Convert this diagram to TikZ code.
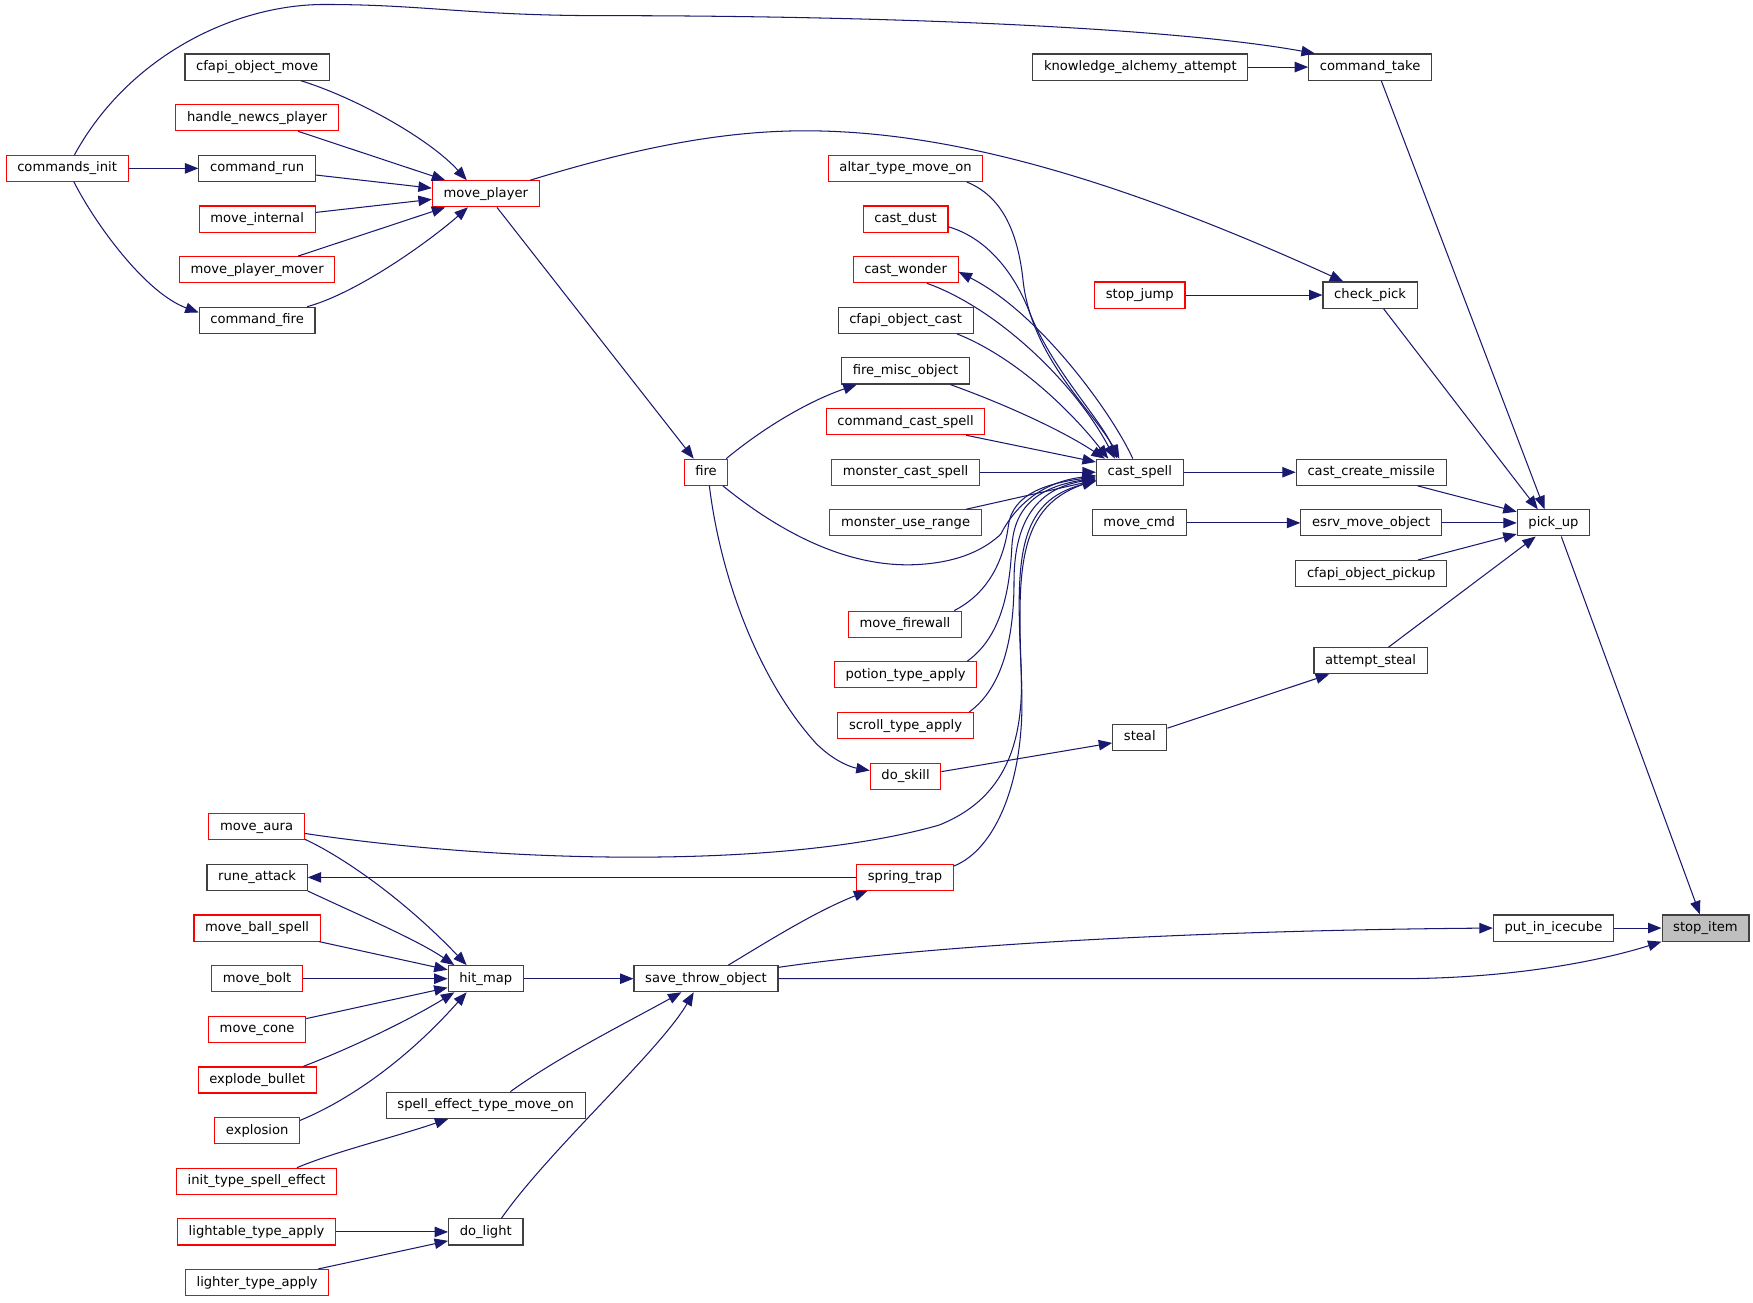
\documentclass[tikz,border=0pt]{standalone}
\usepackage{fontspec}
\setmainfont{DejaVu Sans}
\usetikzlibrary{calc,arrows.meta}
\definecolor{edgeblue}{RGB}{25,25,112}
\definecolor{boxgray}{RGB}{64,64,64}
\definecolor{boxred}{RGB}{255,0,0}
\definecolor{hilite}{RGB}{191,191,191}
\begin{document}
\begin{tikzpicture}[x=0.75pt,y=-0.75pt,
  fn/.style={rectangle,draw,line width=0.75pt,fill=white,inner xsep=7.5pt,inner ysep=0pt,
    minimum height=17.5pt,text height=6.7pt,text depth=1.9pt,font=\fontsize{8.8pt}{10pt}\selectfont},
  nb/.style={fn,draw=boxgray},
  nr/.style={fn,draw=boxred},
  ns/.style={fn,draw=boxgray,fill=hilite},
  link/.style={draw=edgeblue,line width=0.7pt,-{Triangle[length=9pt,width=7pt]}}]
\useasboundingbox[fill=white] (0,0) rectangle (1568,1165);
% nodes
\node[nr] (commands_init) at (60,150.6) {commands\_init};
\node[nb] (cfapi_object_move) at (230,60) {cfapi\_object\_move};
\node[nr] (handle_newcs_player) at (230,105.3) {handle\_newcs\_player};
\node[nb] (command_run) at (230,150.6) {command\_run};
\node[nr] (move_internal) at (230,195.9) {move\_internal};
\node[nr] (move_player_mover) at (230,241.2) {move\_player\_mover};
\node[nb] (command_fire) at (230,286.5) {command\_fire};
\node[nr] (move_player) at (434.5,173.3) {move\_player};
\node[nb] (knowledge_alchemy_attempt) at (1020,60) {knowledge\_alchemy\_attempt};
\node[nb] (command_take) at (1225.5,60) {command\_take};
\node[nr] (altar_type_move_on) at (810,150.6) {altar\_type\_move\_on};
\node[nr] (cast_dust) at (810,195.9) {cast\_dust};
\node[nr] (cast_wonder) at (810,241.2) {cast\_wonder};
\node[nr] (stop_jump) at (1019.5,263.9) {stop\_jump};
\node[nb] (check_pick) at (1225.5,263.9) {check\_pick};
\node[nb] (cfapi_object_cast) at (810,286.5) {cfapi\_object\_cast};
\node[nb] (fire_misc_object) at (810,331.8) {fire\_misc\_object};
\node[nr] (command_cast_spell) at (810,377.1) {command\_cast\_spell};
\node[nr] (fire) at (631.5,422.4) {fire};
\node[nr] (monster_cast_spell) at (810,422.4) {monster\_cast\_spell};
\node[nb] (cast_spell) at (1019.5,422.4) {cast\_spell};
\node[nb] (cast_create_missile) at (1226.5,422.4) {cast\_create\_missile};
\node[nr] (monster_use_range) at (810,467.7) {monster\_use\_range};
\node[nb] (move_cmd) at (1019,467.7) {move\_cmd};
\node[nb] (esrv_move_object) at (1226.5,467.7) {esrv\_move\_object};
\node[nb] (pick_up) at (1389.5,467.7) {pick\_up};
\node[nb] (cfapi_object_pickup) at (1226.5,513) {cfapi\_object\_pickup};
\node[nr] (move_firewall) at (809.5,558.3) {move\_firewall};
\node[nb] (attempt_steal) at (1226,591) {attempt\_steal};
\node[nr] (potion_type_apply) at (810,603.6) {potion\_type\_apply};
\node[nr] (scroll_type_apply) at (810,648.9) {scroll\_type\_apply};
\node[nb] (steal) at (1019.5,659.5) {steal};
\node[nr] (do_skill) at (810,694.2) {do\_skill};
\node[nr] (move_aura) at (229.5,739.5) {move\_aura};
\node[nb] (rune_attack) at (230,784.8) {rune\_attack};
\node[nr] (spring_trap) at (809.5,784.8) {spring\_trap};
\node[nr] (move_ball_spell) at (230,830.1) {move\_ball\_spell};
\node[nb] (put_in_icecube) at (1389.5,830.1) {put\_in\_icecube};
\node[ns] (stop_item) at (1525.5,830.1) {stop\_item};
\node[nr] (move_bolt) at (230,875.4) {move\_bolt};
\node[nb] (hit_map) at (434.5,875.4) {hit\_map};
\node[nb] (save_throw_object) at (631.5,875.4) {save\_throw\_object};
\node[nr] (move_cone) at (230,920.7) {move\_cone};
\node[nr] (explode_bullet) at (230,966) {explode\_bullet};
\node[nb] (spell_effect_type_move_on) at (434.5,988.6) {spell\_effect\_type\_move\_on};
\node[nr] (explosion) at (230,1011.3) {explosion};
\node[nr] (init_type_spell_effect) at (229.5,1056.6) {init\_type\_spell\_effect};
\node[nr] (lightable_type_apply) at (229.5,1101.9) {lightable\_type\_apply};
\node[nb] (do_light) at (434.5,1101.9) {do\_light};
\node[nr] (lighter_type_apply) at (230,1147.2) {lighter\_type\_apply};
% edges
\draw[link] (commands_init) .. controls (115,50) and (210,4) .. (290,4)
  .. controls (380,4) and (420,14) .. (540,14)
  .. controls (800,14) and (1050,25) .. ($(command_take.north west)+(6,0)$);
\draw[link] (knowledge_alchemy_attempt) -- (command_take);
\draw[link] ($(command_take.south)+(10,0)$) -- ($(pick_up.north)+(-8,0)$);
\draw[link] (commands_init) -- (command_run);
\draw[link] (commands_init) .. controls (85,200) and (130,262) .. ($(command_fire.west)+(0,-7)$);
\draw[link] (cfapi_object_move) .. controls (320,88) and (385,125) .. ($(move_player.north)+(-17,0)$);
\draw[link] (handle_newcs_player) -- ($(move_player.north west)+(12,0)$);
\draw[link] (command_run) -- ($(move_player.west)+(0,-5)$);
\draw[link] (move_internal) -- ($(move_player.west)+(0,5)$);
\draw[link] (move_player_mover) -- ($(move_player.south west)+(12,0)$);
\draw[link] (command_fire) .. controls (320,262) and (385,215) .. ($(move_player.south)+(-16,0)$);
\draw[link] (move_player) .. controls (560,135) and (640,117) .. (720,117)
  .. controls (850,117) and (1000,160) .. ($(check_pick.north)+(-24,0)$);
\draw[link] ($(move_player.south)+(10,0)$) -- ($(fire.north)+(-11,0)$);
\draw[link] (stop_jump) -- (check_pick);
\draw[link] ($(check_pick.south)+(12,0)$) -- ($(pick_up.north)+(-14,0)$);
% into cast_spell from above
\draw[link] ($(altar_type_move_on.south east)+(-15,0)$) .. controls (895,175) and (910,205) .. (915,250)
  .. controls (922,320) and (980,370) .. ($(cast_spell.north west)+(21,0)$);
\draw[link] ($(cast_dust.east)+(0,7)$) .. controls (880,212) and (905,240) .. (920,277)
  .. controls (940,330) and (985,375) .. ($(cast_spell.north west)+(19,0)$);
\draw[link] ($(cast_spell.north west)+(33,0)$) .. controls (995,370) and (930,280) .. ($(cast_wonder.east)+(0,2)$);
\draw[link] ($(cast_wonder.south)+(19,0)$) .. controls (890,275) and (960,340) .. ($(cast_spell.north west)+(17,0)$);
\draw[link] ($(cfapi_object_cast.south)+(46,0)$) .. controls (910,320) and (960,370) .. ($(cast_spell.north west)+(11,0)$);
\draw[link] ($(fire_misc_object.south)+(40,0)$) .. controls (900,362) and (950,385) .. ($(cast_spell.north west)+(8,0)$);
\draw[link] ($(command_cast_spell.south)+(54,0)$) -- ($(cast_spell.north west)+(0,3)$);
\draw[link] (monster_cast_spell) -- (cast_spell);
\draw[link] ($(monster_use_range.north)+(54,0)$) -- ($(cast_spell.west)+(0,7)$);
% into cast_spell from below
\draw[link] ($(fire.south east)+(-5,0)$) .. controls (700,478) and (760,508) .. (820,505)
  .. controls (860,503) and (882,490) .. (895,478)
  .. controls (912,445) and (940,430) .. ($(cast_spell.west)+(0,3)$);
\draw[link] ($(move_firewall.north east)+(-7,0)$) .. controls (885,530) and (898,500) .. (902,470)
  .. controls (906,440) and (940,432) .. ($(cast_spell.west)+(0,4)$);
\draw[link] ($(potion_type_apply.north east)+(-9,0)$) .. controls (895,570) and (903,530) .. (905,490)
  .. controls (907,445) and (940,434) .. ($(cast_spell.west)+(0,5)$);
\draw[link] ($(scroll_type_apply.north east)+(-4,0)$) .. controls (897,615) and (907,570) .. (907,520)
  .. controls (907,452) and (940,435) .. ($(cast_spell.west)+(0,6)$);
\draw[link] ($(spring_trap.north east)+(0,2)$) .. controls (890,760) and (916,700) .. (914,620)
  .. controls (911,520) and (905,455) .. ($(cast_spell.west)+(0,7)$);
\draw[link] ($(move_aura.east)+(0,6)$) .. controls (450,772) and (700,778) .. (840,738)
  .. controls (905,712) and (917,655) .. (913,590)
  .. controls (909,500) and (910,448) .. ($(cast_spell.west)+(0,8)$);
% fire out
\draw[link] ($(fire.north east)+(-2,0)$) .. controls (680,385) and (720,360) .. ($(fire_misc_object.south west)+(14,0)$);
\draw[link] ($(fire.south)+(3,0)$) .. controls (645,520) and (680,610) .. (730,665)
  .. controls (745,680) and (760,686) .. ($(do_skill.west)+(0,-5)$);
\draw[link] ($(do_skill.east)+(0,-4)$) -- ($(steal.west)+(0,5)$);
\draw[link] ($(steal.north east)+(0,4)$) -- ($(attempt_steal.south west)+(14,0)$);
\draw[link] ($(attempt_steal.north)+(16,0)$) -- ($(pick_up.south west)+(17,0)$);
\draw[link] (cast_spell) -- (cast_create_missile);
\draw[link] ($(cast_create_missile.south east)+(-26,0)$) -- ($(pick_up.west)+(0,-10)$);
\draw[link] (move_cmd) -- (esrv_move_object);
\draw[link] (esrv_move_object) -- (pick_up);
\draw[link] ($(cfapi_object_pickup.north east)+(-26,0)$) -- ($(pick_up.west)+(0,10)$);
\draw[link] ($(pick_up.south)+(7,0)$) -- ($(stop_item.north)+(-5,0)$);
\draw[link] (put_in_icecube) -- (stop_item);
\draw[link] ($(save_throw_object.north east)+(0,2)$) .. controls (850,843) and (1100,832) .. (put_in_icecube.west);
\draw[link] (save_throw_object.east) -- (1250,875.4) .. controls (1350,875.4) and (1430,860) .. (stop_item.south west);
\draw[link] (spring_trap) -- (rune_attack);
\draw[link] ($(save_throw_object.north)+(20,0)$) .. controls (690,840) and (730,815) .. ($(spring_trap.south west)+(10,0)$);
\draw[link] (hit_map) -- (save_throw_object);
% into hit_map
\draw[link] ($(move_aura.south east)+(0,-1)$) .. controls (310,768) and (365,808) .. ($(hit_map.north west)+(17,0)$);
\draw[link] (rune_attack.south east) .. controls (320,818) and (372,840) .. ($(hit_map.north west)+(6,0)$);
\draw[link] (move_ball_spell) -- ($(hit_map.west)+(0,-8)$);
\draw[link] (move_bolt) -- (hit_map);
\draw[link] (move_cone) -- ($(hit_map.west)+(0,8)$);
\draw[link] ($(explode_bullet.north east)+(-12,0)$) .. controls (320,935) and (370,910) .. ($(hit_map.south west)+(6,0)$);
\draw[link] ($(explosion.north east)+(0,3)$) .. controls (310,985) and (362,950) .. ($(hit_map.south west)+(17,0)$);
% into save_throw_object from below
\draw[link] ($(spell_effect_type_move_on.north)+(22,0)$) .. controls (500,945) and (560,915) .. ($(save_throw_object.south)+(-22,0)$);
\draw[link] ($(init_type_spell_effect.north east)+(-36,0)$) .. controls (300,1030) and (350,1018) .. ($(spell_effect_type_move_on.south west)+(56,0)$);
\draw[link] ($(do_light.north)+(14,0)$) .. controls (490,1030) and (590,940) .. ($(save_throw_object.south)+(-11,0)$);
\draw[link] (lightable_type_apply) -- (do_light);
\draw[link] ($(lighter_type_apply.north east)+(-10,0)$) -- ($(do_light.west)+(0,8)$);
\end{tikzpicture}
\end{document}
